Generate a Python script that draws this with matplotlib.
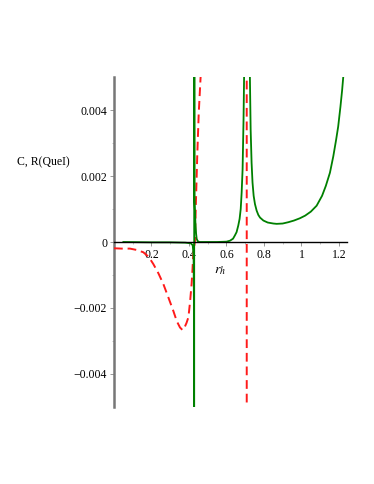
import matplotlib.pyplot as plt
from matplotlib.ticker import FixedLocator

# green curve: C (heat capacity)
green_x = [0.05, 0.2, 0.3, 0.38, 0.41, 0.42, 0.4245, 0.4265, 0.4275,
           0.4282, 0.4295, 0.432, 0.435, 0.438, 0.441, 0.446, 0.455,
           0.55, 0.60, 0.619, 0.635, 0.645, 0.654, 0.663, 0.670, 0.676, 0.681, 0.686, 0.691,
           0.694, 0.700, 0.708,
           0.7085, 0.716, 0.721, 0.725, 0.729, 0.734, 0.739, 0.745, 0.752, 0.761, 0.770, 0.779, 0.797,
           0.82, 0.85, 0.868, 0.90, 0.93, 0.96, 0.992, 1.02, 1.05, 1.081, 1.11, 1.13, 1.152,
           1.17, 1.185, 1.196, 1.208, 1.217, 1.223, 1.235]
green_y = [0.0, -0.00001, -0.00001, -0.00002, -0.00004, -0.0001, -0.0004, -0.002, -0.05,
           0.05, 0.0013, 0.0009, 0.0005, 0.00025, 0.0001, 0.00003, 0.0,
           0.0, 0.00001, 0.00004, 0.0001, 0.0002, 0.0003, 0.0005, 0.0007, 0.001, 0.0015, 0.0022, 0.0037,
           0.005, 0.01, 0.05,
           0.05, 0.012, 0.007, 0.005, 0.0034, 0.0024, 0.0018, 0.0014, 0.00115, 0.00095, 0.00082, 0.00074, 0.00065,
           0.00059, 0.00056, 0.00055, 0.00056, 0.0006, 0.00065, 0.00072, 0.0008, 0.00092, 0.0011, 0.0014, 0.0017, 0.0021,
           0.0026, 0.0031, 0.0035, 0.0041, 0.0046, 0.005, 0.006]

# red dashed curve: R (Ricci scalar)
red_x = [0.0, 0.04, 0.085, 0.12, 0.156, 0.185, 0.21, 0.237, 0.263, 0.29, 0.316, 0.335, 0.352,
         0.366, 0.377, 0.387, 0.397, 0.406, 0.414, 0.419, 0.423, 0.428, 0.432, 0.437, 0.444,
         0.452, 0.462, 0.48, 0.60, 0.708, 0.7082, 0.80]
red_y = [-0.00019, -0.0002, -0.0002, -0.00024, -0.00031, -0.00045, -0.00067, -0.00095, -0.00127,
         -0.00168, -0.00208, -0.0024, -0.00259, -0.00267, -0.00258, -0.00245, -0.00228, -0.0018,
         -0.00127, -0.0008, -0.00036, -0.00015, 0.00004, 0.0012, 0.0026, 0.0039, 0.005, 0.008,
         0.02, 0.05, -0.05, -0.05]

xticks = [0.2, 0.4, 0.6, 0.8, 1.0, 1.2]
xtick_labels = ['0.2', '0.4', '0.6', '0.8', '1', '1.2']
yticks = [-0.004, -0.002, 0, 0.002, 0.004]
ytick_labels = ['\u22120.004', '\u22120.002', '0', '0.002', '0.004']

plt.rcParams['font.family'] = ['Liberation Serif', 'DejaVu Serif']
plt.rcParams['mathtext.fontset'] = 'stix'

fig = plt.figure(figsize=(3.74, 4.84), dpi=100)
ax = fig.add_axes([114/374, 77/484, 233/374, 330/484])

ax.plot(red_x, red_y, color='#ff1a1a', linewidth=1.4, dashes=(4.5, 2.5), zorder=3)
ax.plot(green_x, green_y, color='#008000', linewidth=1.3, zorder=4)

ax.set_xlim(0, 1.243)
ax.set_ylim(-0.005, 0.005)

ax.spines['top'].set_visible(False)
ax.spines['right'].set_visible(False)
ax.spines['bottom'].set_position(('data', 0))
ax.spines['bottom'].set_linewidth(1.0)
ax.spines['bottom'].set_zorder(5)
ax.spines['left'].set_color('#777777')
ax.spines['left'].set_linewidth(1.8)

ax.set_xticks(xticks)
ax.set_xticklabels(xtick_labels)
ax.set_yticks(yticks)
ax.set_yticklabels(ytick_labels)
ax.yaxis.set_minor_locator(FixedLocator([-0.003, -0.001, 0.001, 0.003]))
ax.xaxis.set_minor_locator(FixedLocator([0.1, 0.3, 0.5, 0.7, 0.9, 1.1]))
ax.tick_params(axis='both', which='major', labelsize=8.5, length=3, width=0.6, color='#888888', pad=2)
ax.tick_params(axis='both', which='minor', length=1.5, width=0.5, color='#aaaaaa')

fig.text(70/374, 1 - 162/484, 'C, R(QueI)', fontsize=8.5, ha='right', va='center')
fig.text(220/374, 1 - 272/484, r'$r_h$', fontsize=10, ha='center', va='center')

fig.savefig('out.png', dpi=100)
